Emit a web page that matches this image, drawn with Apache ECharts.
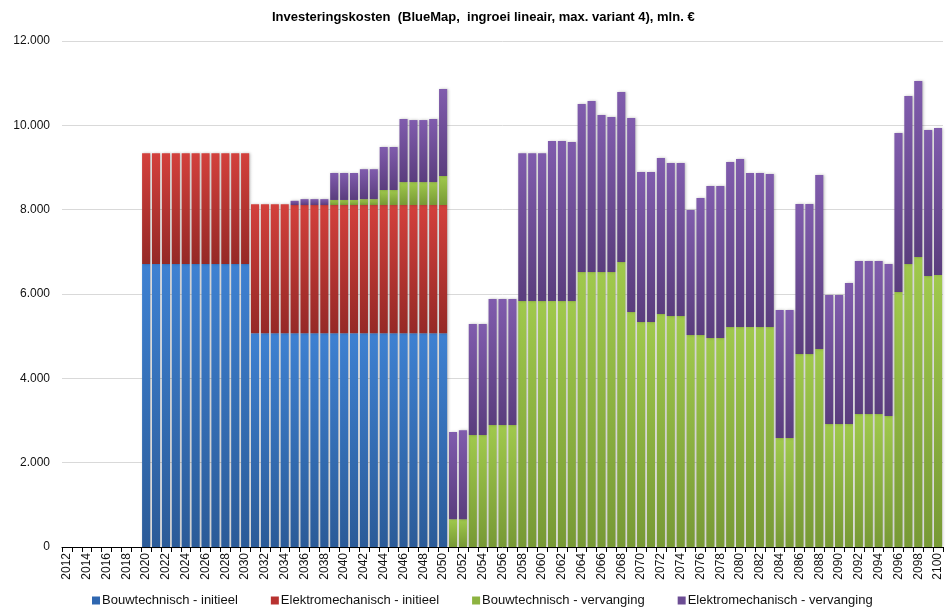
<!DOCTYPE html>
<html>
<head>
<meta charset="utf-8">
<script src="https://cdn.jsdelivr.net/npm/echarts@6/dist/echarts.min.js"></script>
<style>
  html, body { margin: 0; padding: 0; background: #fff; }
  #chart { width: 951px; height: 615px; }
</style>
</head>
<body>
<div id="chart"></div>
<script>
// jaren 2012 t/m 2100
const years = []
for (let y = 2012; y <= 2100; y++) years.push(String(y))

const seriesNames = [
    'Bouwtechnisch - initieel',
    'Elektromechanisch - initieel',
    'Bouwtechnisch - vervanging',
    'Elektromechanisch - vervanging'
]

// mln. euro per jaar
const bouwInitieel = [
    0, 0, 0, 0, 0, 0, 0, 0,
    6710, 6710, 6710, 6710, 6710, 6710, 6710, 6710, 6710, 6710, 6710,
    5070, 5070, 5070, 5070, 5070, 5070, 5070, 5070, 5070, 5070,
    5070, 5070, 5070, 5070, 5070, 5070, 5070, 5070, 5070, 5070,
    0, 0, 0, 0, 0, 0, 0, 0, 0, 0,
    0, 0, 0, 0, 0, 0, 0, 0, 0, 0,
    0, 0, 0, 0, 0, 0, 0, 0, 0, 0,
    0, 0, 0, 0, 0, 0, 0, 0, 0, 0,
    0, 0, 0, 0, 0, 0, 0, 0, 0, 0
]

const elekInitieel = [
    0, 0, 0, 0, 0, 0, 0, 0,
    2630, 2630, 2630, 2630, 2630, 2630, 2630, 2630, 2630, 2630, 2630,
    3060, 3060, 3060, 3060, 3040, 3040, 3040, 3040, 3040, 3040,
    3040, 3040, 3040, 3040, 3040, 3040, 3040, 3040, 3040, 3040,
    0, 0, 0, 0, 0, 0, 0, 0, 0, 0,
    0, 0, 0, 0, 0, 0, 0, 0, 0, 0,
    0, 0, 0, 0, 0, 0, 0, 0, 0, 0,
    0, 0, 0, 0, 0, 0, 0, 0, 0, 0,
    0, 0, 0, 0, 0, 0, 0, 0, 0, 0
]

const bouwVervanging = [
    0, 0, 0, 0, 0, 0, 0, 0,
    0, 0, 0, 0, 0, 0, 0, 0, 0, 0, 0,
    0, 0, 0, 0, 0, 0, 0, 0, 120, 120,
    120, 140, 140, 356, 356, 545, 545, 545, 545, 690,
    660, 660, 2656, 2656, 2893, 2893, 2893, 5833, 5833, 5833,
    5833, 5833, 5833, 6521, 6521, 6521, 6521, 6758, 5573, 5336,
    5336, 5526, 5478, 5478, 5027, 5027, 4956, 4956, 5217, 5217,
    5217, 5217, 5217, 2585, 2585, 4577, 4577, 4695, 2917, 2917,
    2917, 3154, 3154, 3154, 3106, 6047, 6711, 6877, 6426, 6450
]

const elekVervanging = [
    0, 0, 0, 0, 0, 0, 0, 0,
    0, 0, 0, 0, 0, 0, 0, 0, 0, 0, 0,
    0, 0, 0, 0, 100, 140, 140, 140, 640, 640,
    640, 710, 710, 1020, 1020, 1495, 1470, 1470, 1495, 2060,
    2070, 2110, 2634, 2634, 2987, 2987, 2987, 3507, 3507, 3507,
    3795, 3795, 3771, 3984, 4055, 3723, 3676, 4032, 4600, 3557,
    3557, 3699, 3628, 3628, 2963, 3249, 3605, 3605, 3913, 3984,
    3652, 3652, 3628, 3035, 3035, 3557, 3557, 4126, 3059, 3059,
    3343, 3628, 3628, 3628, 3605, 3770, 3984, 4173, 3463, 3486
]

const chart = echarts.init(document.getElementById('chart'))

function grad(top, bottom){
    return new echarts.graphic.LinearGradient(0, 0, 0, 1, [
        { offset: 0, color: top },
        { offset: 1, color: bottom }
    ])
}

function barSeries(name, data, top, bottom){
    return {
        name: name,
        type: 'bar',
        stack: 'totaal',
        data: data,
        barCategoryGap: '18%',
        itemStyle: {
            color: grad(top, bottom),
            shadowBlur: 3,
            shadowColor: 'rgba(0,0,0,0.28)',
            shadowOffsetX: 1
        },
        emphasis: { disabled: true }
    }
}

const option = {
    animation: false,
    backgroundColor: '#fff',
    textStyle: { fontFamily: 'Liberation Sans, Arial, sans-serif' },
    title: {
        text: 'Investeringskosten  (BlueMap,  ingroei lineair, max. variant 4), mln. €',
        left: 267,
        top: 6,
        textStyle: { fontSize: 13, fontWeight: 'bold', color: '#000', fontFamily: 'Liberation Sans, Arial, sans-serif' }
    },
    legend: {
        data: seriesNames.map((n, i) => ({
            name: n,
            itemStyle: { color: ['#2f67b0', '#b83230', '#8db340', '#6c4d94'][i] }
        })),
        left: 87,
        bottom: 3,
        icon: 'rect',
        itemWidth: 8,
        itemHeight: 8,
        itemGap: 33,
        textStyle: { fontSize: 13, color: '#111', padding: [0, 0, 0, -3] }
    },
    grid: { left: 62, right: 8, top: 41, bottom: 68 },
    xAxis: {
        type: 'category',
        data: years,
        axisLine: { lineStyle: { color: '#000', width: 1 } },
        axisTick: { show: true, interval: 0, length: 5, lineStyle: { color: '#000' } },
        axisLabel: { rotate: 90, interval: 1, fontSize: 12, color: '#111', margin: 6 }
    },
    yAxis: {
        type: 'value',
        min: 0,
        max: 12000,
        interval: 2000,
        axisLine: { show: false },
        axisTick: { show: false },
        splitLine: { lineStyle: { color: '#d9d9d9', width: 1 } },
        axisLabel: {
            fontSize: 12,
            color: '#111',
            margin: 12,
            formatter: v => v === 0 ? '0' : String(v).replace(/\B(?=(\d{3})+(?!\d))/g, '.')
        }
    },
    series: [
        barSeries(seriesNames[0], bouwInitieel, '#3e81d2', '#2b5b98'),
        barSeries(seriesNames[1], elekInitieel, '#d3403c', '#952926'),
        barSeries(seriesNames[2], bouwVervanging, '#a0c94c', '#779935'),
        barSeries(seriesNames[3], elekVervanging, '#805cad', '#5a3d7d')
    ]
}

chart.setOption(option)
</script>
</body>
</html>
